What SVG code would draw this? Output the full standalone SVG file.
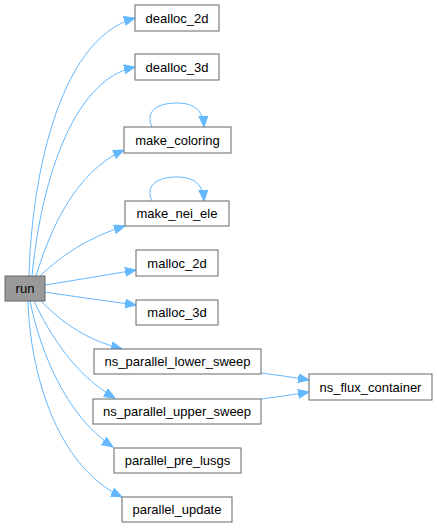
<svg xmlns="http://www.w3.org/2000/svg" width="437" height="528" viewBox="0 0 437 528">
<defs>
<style>
.node rect{fill:#ffffff;stroke:#666666;stroke-width:1}
.node.root rect{fill:#999999}
.node text{font-family:"Liberation Sans",Arial,Helvetica,sans-serif;font-size:13px;fill:#000000;text-anchor:middle}
#edges path{fill:none;stroke:#63b8ff;stroke-width:1}
</style>
<marker id="ah" markerUnits="userSpaceOnUse" markerWidth="12" markerHeight="10" refX="11" refY="4.5" orient="auto">
<path d="M0,0 L11,4.5 L0,9 Z" fill="#63b8ff" stroke="#63b8ff" stroke-width="1"/>
</marker>
</defs>
<rect width="437" height="528" fill="#ffffff"/>
<g id="edges">
<path d="M29,276 C31,190 55,40 135,18" marker-end="url(#ah)"/>
<path d="M32,276 C40,190 70,80 135,67" marker-end="url(#ah)"/>
<path d="M36,276 C50,230 75,172 124,150" marker-end="url(#ah)"/>
<path d="M40,276 C55,262 80,240 125,226" marker-end="url(#ah)"/>
<path d="M45,285 C70,281 100,276 136,270" marker-end="url(#ah)"/>
<path d="M45,292 C70,296 100,300 136,305" marker-end="url(#ah)"/>
<path d="M41,301 C58,318 80,338 122,349" marker-end="url(#ah)"/>
<path d="M34,301 C50,335 75,375 115,398" marker-end="url(#ah)"/>
<path d="M30,301 C40,350 65,415 113,447" marker-end="url(#ah)"/>
<path d="M28,301 C30,370 55,465 122,497" marker-end="url(#ah)"/>
<path d="M261,373 C276,375 292,377 309,380" marker-end="url(#ah)"/>
<path d="M261,399 C276,397 292,395 309,392" marker-end="url(#ah)"/>
<path d="M152,127 C145,112 156,103 177,103 C194,103 203,110 204,127" marker-end="url(#ah)"/>
<path d="M152,201 C145,186 156,177 177,177 C194,177 203,184 204,201" marker-end="url(#ah)"/>
</g>
<g id="run" class="node root"><rect x="5" y="276" width="40" height="25"/><text x="25" y="293">run</text></g>
<g id="dealloc_2d" class="node"><rect x="135" y="5" width="84" height="26"/><text x="177" y="22.5">dealloc_2d</text></g>
<g id="dealloc_3d" class="node"><rect x="135" y="54" width="84" height="26"/><text x="177" y="71.5">dealloc_3d</text></g>
<g id="make_coloring" class="node"><rect x="124" y="127" width="107" height="26"/><text x="177.5" y="144.5">make_coloring</text></g>
<g id="make_nei_ele" class="node"><rect x="125" y="201" width="104" height="25"/><text x="177" y="218">make_nei_ele</text></g>
<g id="malloc_2d" class="node"><rect x="136" y="250" width="82" height="26"/><text x="177" y="267.5">malloc_2d</text></g>
<g id="malloc_3d" class="node"><rect x="136" y="300" width="82" height="25"/><text x="177" y="317">malloc_3d</text></g>
<g id="ns_parallel_lower_sweep" class="node"><rect x="94" y="349" width="167" height="25"/><text x="177.5" y="366">ns_parallel_lower_sweep</text></g>
<g id="ns_parallel_upper_sweep" class="node"><rect x="93" y="399" width="168" height="25"/><text x="177" y="416">ns_parallel_upper_sweep</text></g>
<g id="parallel_pre_lusgs" class="node"><rect x="114" y="448" width="127" height="25"/><text x="177.5" y="465">parallel_pre_lusgs</text></g>
<g id="parallel_update" class="node"><rect x="122" y="497" width="110" height="25"/><text x="177" y="514">parallel_update</text></g>
<g id="ns_flux_container" class="node"><rect x="309" y="374" width="123" height="26"/><text x="370.5" y="391.5">ns_flux_container</text></g>
</svg>
